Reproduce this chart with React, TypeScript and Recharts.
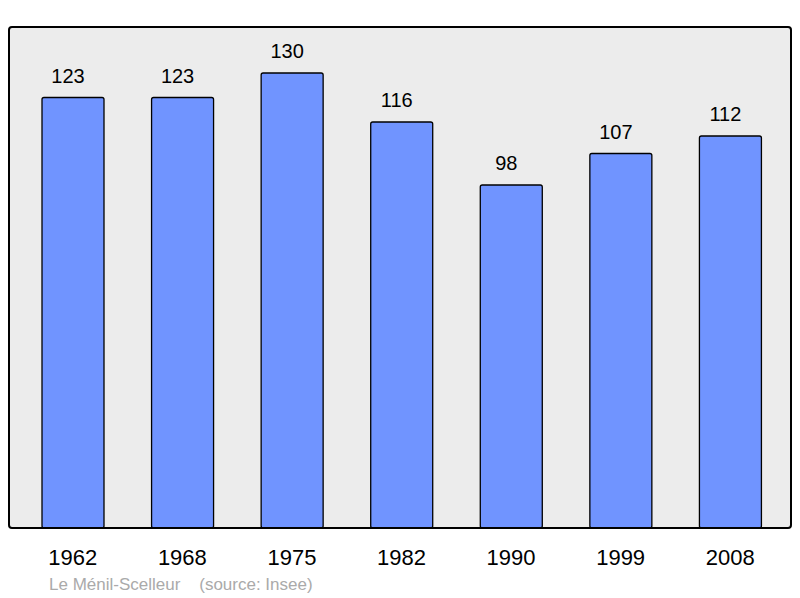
import { BarChart, Bar, XAxis, YAxis, LabelList } from 'recharts'

const YEARS = ['1962', '1968', '1975', '1982', '1990', '1999', '2008']
const POPULATION = [123, 123, 130, 116, 98, 107, 112]

const data = YEARS.map((year, i) => ({ year, value: POPULATION[i] }))

const FONT = '"Liberation Sans", Arial, sans-serif'

export default function App() {
  return (
    <div style={{ position: 'absolute', left: 0, top: 0, width: 800, height: 598, fontFamily: FONT, background: '#fff' }}>
      {/* plot background */}
      <div
        style={{
          position: 'absolute',
          left: 8,
          top: 26,
          width: 784,
          height: 503,
          boxSizing: 'border-box',
          background: '#ececec',
          borderRadius: 4,
        }}
      />
      <div style={{ position: 'absolute', left: 0, top: 0 }}>
        <BarChart width={800} height={598} data={data} margin={{ top: 27, right: 9, bottom: 30, left: 9 }}>
          <XAxis
            dataKey="year"
            height={40}
            axisLine={false}
            tickLine={false}
            tickMargin={15}
            padding={{ left: 9, right: 6 }}
            tick={{ fill: '#000', fontSize: 22, fontFamily: FONT }}
          />
          <YAxis hide domain={[0, 143.14]} />
          <Bar dataKey="value" fill="#7094ff" stroke="#000" strokeWidth={1.3} barSize={62} radius={2} isAnimationActive={false}>
            <LabelList dataKey="value" position="top" offset={14.5} dx={-5} fill="#000" fontSize={20} fontFamily={FONT} />
          </Bar>
        </BarChart>
      </div>
      {/* plot border */}
      <div
        style={{
          position: 'absolute',
          left: 8,
          top: 26,
          width: 784,
          height: 503,
          boxSizing: 'border-box',
          border: '2px solid #000',
          borderRadius: 4,
          pointerEvents: 'none',
        }}
      />
      <div
        style={{
          position: 'absolute',
          left: 49,
          top: 576,
          fontSize: 17,
          lineHeight: '17px',
          color: '#aaaaaa',
          whiteSpace: 'pre',
        }}
      >
        {'Le Ménil-Scelleur    (source: Insee)'}
      </div>
    </div>
  )
}
